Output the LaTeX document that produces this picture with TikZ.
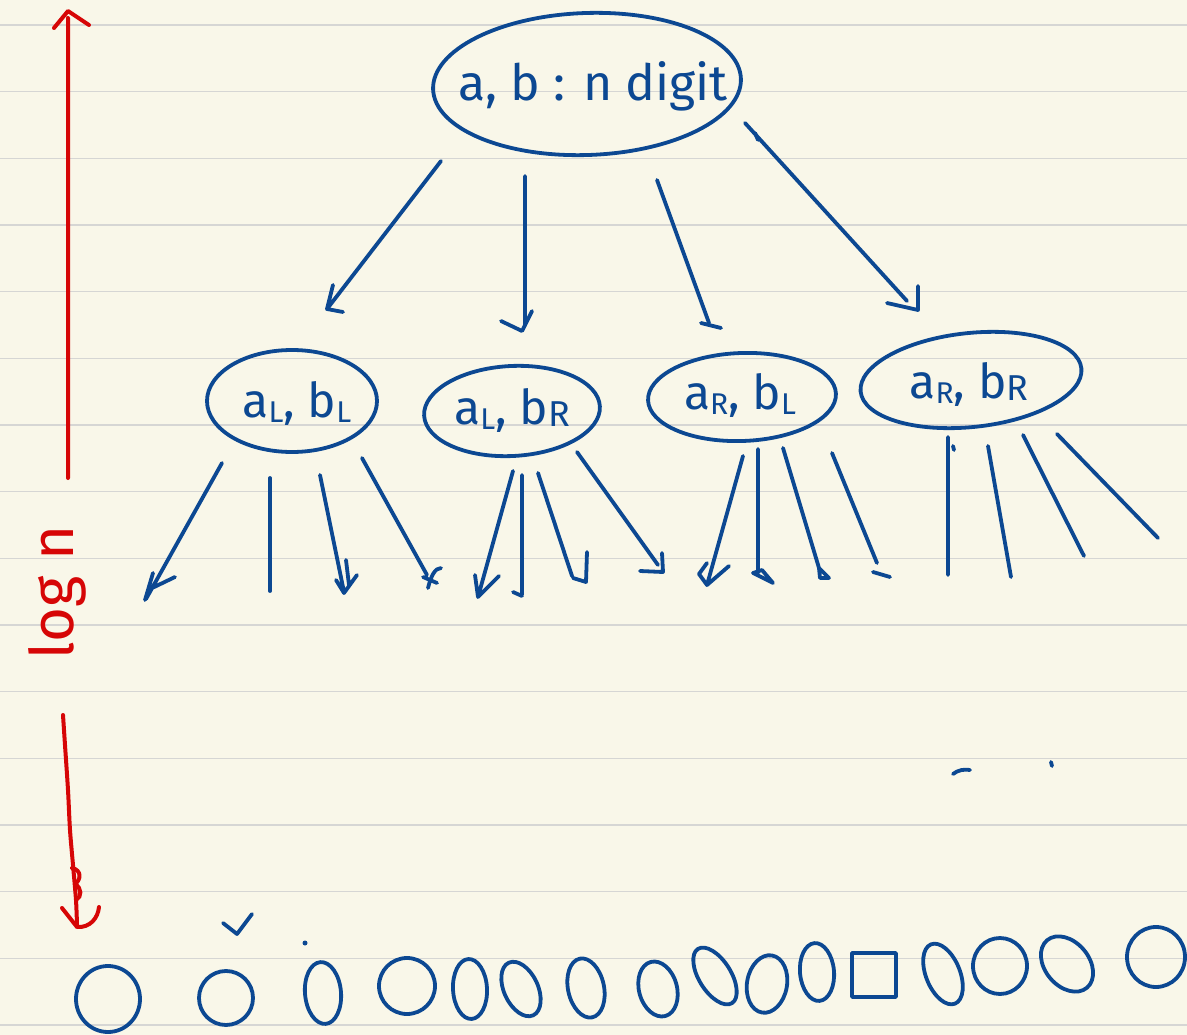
\documentclass[tikz,border=0pt]{standalone}
\usepackage{fontspec}
\setmainfont{Fira Sans}
\usetikzlibrary{shapes.geometric}
\definecolor{paper}{RGB}{249,247,233}
\definecolor{ruling}{RGB}{214,214,212}
\definecolor{ink}{RGB}{12,72,146}
\definecolor{redink}{RGB}{214,6,6}
% lowered subscript letters of the handwriting
\newcommand\subsm[1]{\raisebox{-0.12em}{\fontsize{30}{30}\selectfont #1}}
\newcommand\subbg[1]{\raisebox{-0.05em}{\fontsize{36}{36}\selectfont #1}}
\begin{document}
\begin{tikzpicture}[x=1pt,y=-1pt,
  pen/.style={draw=ink,line width=3.8pt,line cap=round,line join=round},
  redpen/.style={draw=redink,line width=4pt,line cap=round,line join=round},
  bubble/.style={ellipse,pen,inner sep=0pt},
  hand/.style={text=ink,inner sep=0pt,anchor=base},
  rulingline/.style={draw=ruling,line width=1.6pt}]

% paper and ruling
\path[use as bounding box,fill=paper] (0,0) rectangle (1187,1035);
\foreach \k in {0,...,15}
  \draw[rulingline] (0,{25+66.667*\k}) -- (1187,{25+66.667*\k});

% recursion tree: root and the four sub-products
\node[bubble,minimum width=308pt,minimum height=142pt,rotate=2] (root) at (587,84) {};
\node[hand,font=\fontsize{50}{50}\selectfont] (roottxt) at (593,101) {a, b : n digit};

\node[bubble,minimum width=170pt,minimum height=102pt] (ll) at (292,401) {};
\node[hand,font=\fontsize{48}{48}\selectfont] (lltxt) at (297,417) {a\subsm{L}, b\subsm{L}};

\node[bubble,minimum width=176pt,minimum height=90pt,rotate=3] (lr) at (512,411) {};
\node[hand,font=\fontsize{48}{48}\selectfont] (lrtxt) at (512,424) {a\subsm{L}, b\subbg{R}};

\node[bubble,minimum width=188pt,minimum height=88pt,rotate=2] (rl) at (742,397) {};
\node[hand,font=\fontsize{48}{48}\selectfont] (rltxt) at (740,409) {a\subsm{R}, b\subsm{L}};

\node[bubble,minimum width=222pt,minimum height=94pt,rotate=6] (rr) at (971,380) {};
\node[hand,font=\fontsize{48}{48}\selectfont] (rrtxt) at (969,398) {a\subsm{R}, b\subbg{R}};

% arrows from the root
\coordinate (rt1) at (441,161); \coordinate (rh1) at (327,309);
\coordinate (rt2) at (525,176); \coordinate (rh2) at (522,331);
\coordinate (rt3) at (657,180); \coordinate (rh3) at (709,323);
\coordinate (rt4) at (745,123); \coordinate (rh4) at (918,310);
\draw[pen] (rt1) -- (rh1) ++(6,-24) -- (rh1) -- ++(16,3);
\draw[pen] (rt2) -- (525,326) (rh2) ++(-21,-10) -- (rh2) -- ++(10,-20);
\draw[pen] (rt3) -- (rh3) (701,323) -- (721,328);
\draw[pen] (rt4) -- (907,301) (rh4) ++(-31,-7) -- (rh4) -- ++(0,-24);
\draw[pen] (755,133) -- (758,140);

% strokes below a_L, b_L
\coordinate (a1) at (222,463); \coordinate (ah1) at (146,599);
\coordinate (a2) at (270,478); \coordinate (ah2) at (270,591);
\coordinate (a3) at (320,475); \coordinate (ah3) at (344,592);
\coordinate (a4) at (362,458); \coordinate (ah4) at (427,575);
\draw[pen] (a1) -- (ah1) (153,573) -- (145,600) (175,577) -- (148,590);
\draw[pen] (a2) -- (ah2);
\draw[pen] (a3) -- (ah3) (336,580) -- (344,593) -- (357,575) (346,560) -- (349,585);
\draw[pen] (a4) -- (ah4) (441,568) .. controls (435,568) and (431,576) .. (428,588) (423,577) -- (437,583);

% strokes below a_L, b_R
\coordinate (b1) at (513,471); \coordinate (bh1) at (478,597);
\coordinate (b2) at (522,475); \coordinate (bh2) at (522,595);
\coordinate (b3) at (538,473); \coordinate (bh3) at (572,576);
\coordinate (b4) at (577,452); \coordinate (bh4) at (658,565);
\draw[pen] (b1) -- (bh1) (475,575) -- (bh1) -- (499,576);
\draw[pen] (b2) -- (bh2) (513,592) -- (522,596);
\draw[pen] (b3) -- (bh3) (573,578) -- (586,582) -- (587,552);
\draw[pen] (b4) -- (bh4) (640,571) -- (663,572) -- (662,553);

% strokes below a_R, b_L
\coordinate (c1) at (743,456); \coordinate (ch1) at (707,585);
\coordinate (c2) at (758,449); \coordinate (ch2) at (758,573);
\coordinate (c3) at (783,448); \coordinate (ch3) at (819,568);
\coordinate (c4) at (832,453); \coordinate (ch4) at (877,563);
\draw[pen] (c1) -- (ch1) (707,563) -- (699,574) -- (ch1) -- (729,566);
\draw[pen] (c2) -- (ch2) (753,573) -- (773,583) -- (762,570) -- cycle;
\draw[pen] (c3) -- (ch3) (819,568) -- (829,578) -- (820,578) -- cycle;
\draw[pen] (c4) -- (ch4) (873,572) -- (890,577);

% strokes below a_R, b_R
\coordinate (d1) at (948,437); \coordinate (dh1) at (948,575);
\coordinate (d2) at (988,446); \coordinate (dh2) at (1011,577);
\coordinate (d3) at (1023,435); \coordinate (dh3) at (1084,556);
\coordinate (d4) at (1057,434); \coordinate (dh4) at (1158,538);
\draw[pen] (d1) -- (dh1) (953,446) -- (954,450);
\draw[pen] (d2) -- (dh2);
\draw[pen] (d3) -- (dh3);
\draw[pen] (d4) -- (dh4);

% stray marks
\draw[pen] (953,774) .. controls (958,770) and (964,769) .. (970,770);
\draw[pen] (1051,762) -- (1052,766);
\draw[pen] (223,923) -- (237,934) -- (252,914);
\fill[ink] (305,943) circle (2.5);

% bottom level of the recursion
\draw[pen] (108,999) ellipse [x radius=32,y radius=33];
\draw[pen] (226,998) circle (27);
\draw[pen] (323,993) ellipse [x radius=18,y radius=31,rotate=5];
\draw[pen] (407,986) circle (28);
\draw[pen] (470,989) ellipse [x radius=17,y radius=30,rotate=3];
\draw[pen] (521,989) ellipse [x radius=17,y radius=29,rotate=25];
\draw[pen] (586,988) ellipse [x radius=18,y radius=30,rotate=12];
\draw[pen] (658,989) ellipse [x radius=19,y radius=28,rotate=15];
\draw[pen] (715,976) ellipse [x radius=16,y radius=32,rotate=32];
\draw[pen] (767,984) ellipse [x radius=20,y radius=29,rotate=-10];
\draw[pen] (817,972) ellipse [x radius=17,y radius=29,rotate=5];
\draw[pen] (852,953) rectangle (896,997);
\draw[pen] (943,974) ellipse [x radius=17,y radius=32,rotate=22];
\draw[pen] (1000,966) ellipse [x radius=27,y radius=28];
\draw[pen] (1067,964) ellipse [x radius=22,y radius=31,rotate=40];
\draw[pen] (1156,957) ellipse [x radius=29,y radius=30];

% depth marker: log n
\draw[redpen] (68,478) -- (68,18) (54,28) -- (68,11) -- (89,25);
\node[text=redink,font=\fontsize{60}{60}\selectfont,rotate=90,anchor=base west,inner sep=0pt] (logn) at (73,660) {log n};
\draw[redpen] plot[smooth] coordinates {(63,715) (65,745) (68,790) (70,830) (73,865) (76,900) (77,925)};
\draw[redpen] (72,868) .. controls (82,870) and (81,880) .. (75,884) .. controls (82,888) and (82,897) .. (76,900);
\draw[redpen] (62,908) -- (77,927) .. controls (90,928) and (98,918) .. (99,907);
\end{tikzpicture}
\end{document}
